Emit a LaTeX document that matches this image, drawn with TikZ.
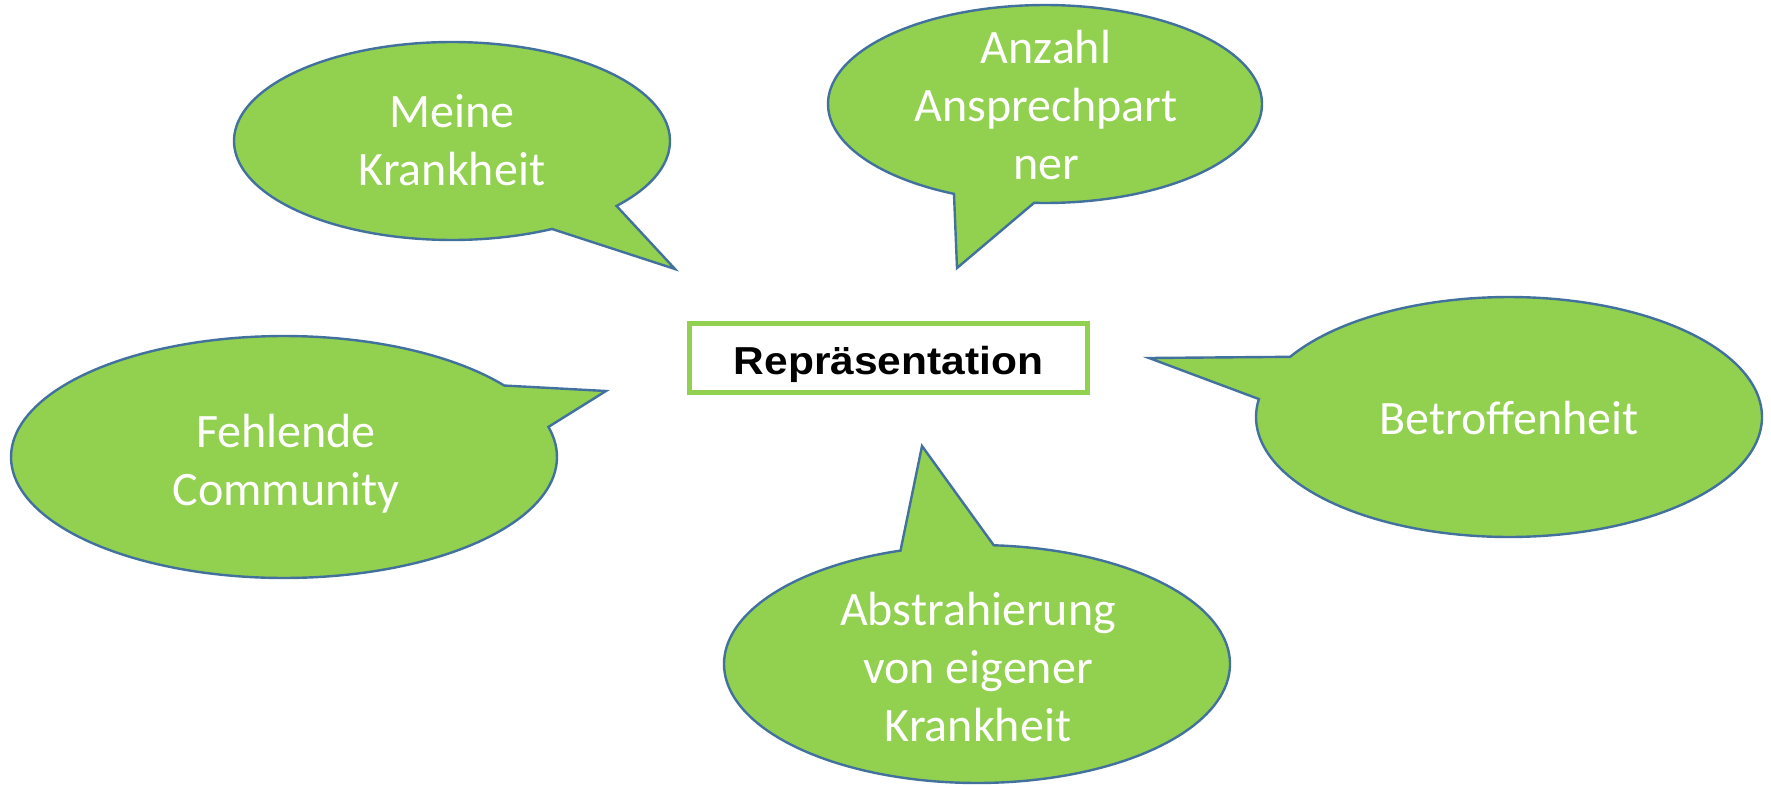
\documentclass[tikz,border=0pt]{standalone}
\usepackage{fontspec}
\setmainfont{Carlito}
\newfontfamily\arialfont[FakeStretch=1.09]{Liberation Sans}
\definecolor{bubblegreen}{HTML}{92D050}
\definecolor{bubbleblue}{HTML}{41719C}
\newcommand\lstrut{\rule[-14pt]{0pt}{58pt}}
\tikzset{
  bubble/.style={fill=bubblegreen, draw=bubbleblue, line width=2.4pt, line join=miter},
  bubbletext/.style={text=white, font=\fontsize{48}{58}\selectfont, align=center, inner sep=0pt},
  titlebox/.style={draw=bubblegreen, line width=5pt, fill=white, minimum width=398pt,
    minimum height=69pt, inner sep=0pt, text height=33pt, text depth=0pt,
    font=\arialfont\bfseries\fontsize{39}{47}\selectfont, text=black}
}
\begin{document}
\begin{tikzpicture}[x=1pt,y=-1pt]
\useasboundingbox (0,0) rectangle (1771,784);
% Meine Krankheit
\draw[bubble] plot[domain=62.7:401, samples=160] ({452+218*cos(\x)},{141+99*sin(\x)}) -- (675,269) -- cycle;
% Anzahl Ansprechpartner
\draw[bubble] plot[domain=114.8:452.9, samples=160] ({1045+217*cos(\x)},{104+99*sin(\x)}) -- (957,268) -- cycle;
% Fehlende Community
\draw[bubble] plot[domain=-14.4:323.8, samples=160] ({284+273*cos(\x)},{457+121*sin(\x)}) -- (606,391) -- cycle;
% Betroffenheit
\draw[bubble] plot[domain=210.1:548.6, samples=160] ({1509+253*cos(\x)},{417+120*sin(\x)}) -- (1149,358) -- cycle;
% Abstrahierung
\draw[bubble] plot[domain=273.8:612.4, samples=160] ({977+253*cos(\x)},{664+119*sin(\x)}) -- (922,446) -- cycle;

\node[bubbletext] (meine) at (452,141) {\lstrut Meine\\\lstrut Krankheit};
\node[bubbletext] (anzahl) at (1046,106) {\lstrut Anzahl\\\lstrut Ansprechpart\\\lstrut ner};
\node[bubbletext] (fehlende) at (286,461) {\lstrut Fehlende\\\lstrut Community};
\node[bubbletext] (betroffen) at (1509,419) {\lstrut Betroffenheit};
\node[bubbletext] (abstr) at (978,668) {\lstrut Abstrahierung\\\lstrut von eigener\\\lstrut Krankheit};

\node[titlebox] (repr) at (888.5,358) {Repräsentation};
\end{tikzpicture}
\end{document}
